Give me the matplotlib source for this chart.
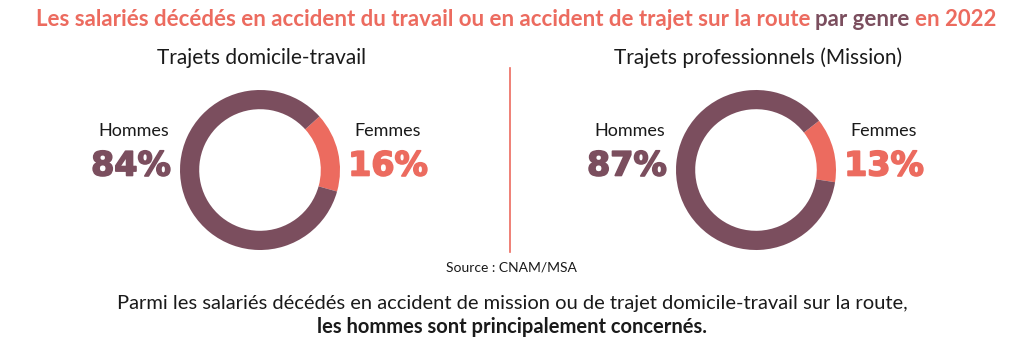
import matplotlib
matplotlib.use("Agg")
import matplotlib.pyplot as plt
import matplotlib.patheffects as pe

# Data
panels = ["Trajets domicile-travail", "Trajets professionnels (Mission)"]
genres = ["Femmes", "Hommes"]
femmes = [16, 13]
hommes = [84, 87]
start_angles = [42, 38]

PLUM = "#7b4e5e"
SALMON = "#ec6b5f"
W, H = 1032, 343

fig = plt.figure(figsize=(W / 100, H / 100), dpi=100)
fig.patch.set_facecolor("white")


def fx(x):
    return x / W


def fy(y):
    return 1 - y / H


# title in several colours
title_parts = [
    ("Les salariés décédés en accident du travail ou en accident de trajet sur la route ", SALMON),
    ("par genre ", PLUM),
    ("en 2022", SALMON),
]
renderer = fig.canvas.get_renderer()
tfont = dict(family="Lato", weight="bold", fontsize=16)
texts = []
for s, c in title_parts:
    t = fig.text(0, fy(20), s, color=c, va="center", ha="left", **tfont)
    texts.append(t)
widths = [t.get_window_extent(renderer).width for t in texts]
x = (W - sum(widths)) / 2
for t, w in zip(texts, widths):
    t.set_x(fx(x))
    x += w

centers = [260, 756]
for i in range(2):
    cx = centers[i]
    ax = fig.add_axes([fx(cx - 80), fy(250), fx(160), 160 / H])
    ax.pie([femmes[i], hommes[i]], colors=[SALMON, PLUM], startangle=start_angles[i],
           counterclock=False, radius=1,
           wedgeprops=dict(width=0.24, edgecolor="none"))
    ax.set_xlim(-1, 1)
    ax.set_ylim(-1, 1)
    ax.set_aspect("equal")
    ax.axis("off")

    fig.text(fx(cx + 2), fy(58), panels[i], ha="center", va="center",
             fontsize=15, color="#1a1a1a", family="Lato")
    fig.text(fx(cx - 126), fy(131), "Hommes", ha="center", va="center",
             fontsize=13, color="#1a1a1a", family="Lato")
    fig.text(fx(cx - 129), fy(166), f"{hommes[i]}%", ha="center", va="center",
             fontsize=24, color=PLUM, weight="bold", family="DejaVu Sans",
             path_effects=[pe.withStroke(linewidth=1.2, foreground=PLUM)])
    fig.text(fx(cx + 128), fy(131), "Femmes", ha="center", va="center",
             fontsize=13, color="#1a1a1a", family="Lato")
    fig.text(fx(cx + 128), fy(166), f"{femmes[i]}%", ha="center", va="center",
             fontsize=24, color=SALMON, weight="bold", family="DejaVu Sans",
             path_effects=[pe.withStroke(linewidth=1.2, foreground=SALMON)])

# separator
fig.add_artist(plt.Line2D([fx(510), fx(510)], [fy(68), fy(252)], color=SALMON, lw=1.2))

fig.text(fx(511), fy(268), "Source : CNAM/MSA", ha="center", va="center",
         fontsize=10, color="#1a1a1a", family="Lato")
fig.text(fx(512), fy(304),
         "Parmi les salariés décédés en accident de mission ou de trajet domicile-travail sur la route,",
         ha="center", va="center", fontsize=14.5, color="#1a1a1a", family="Lato")
fig.text(fx(512), fy(327), "les hommes sont principalement concernés.",
         ha="center", va="center", fontsize=14.5, color="#1a1a1a", family="Lato", weight="bold")

fig.savefig("out.png", dpi=100)
